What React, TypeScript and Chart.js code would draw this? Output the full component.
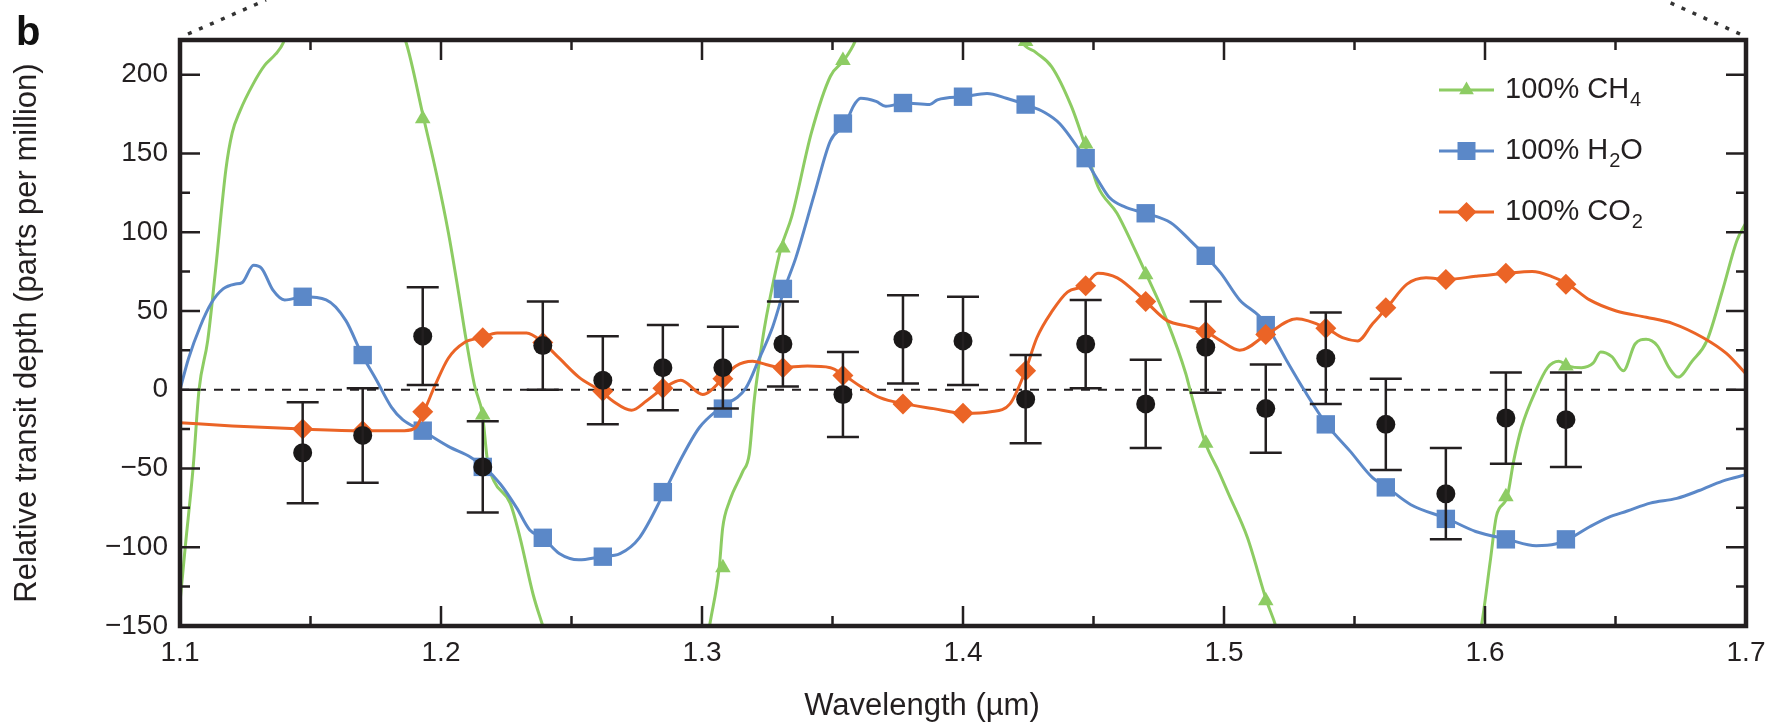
import React, { useEffect, useRef } from "react";
import { Chart, registerables } from "chart.js";

Chart.register(...registerables);

const FONT = '"Liberation Sans", Arial, Helvetica, sans-serif';
const INK = "#231f20";
const GREEN = "#8dcc63";
const BLUE = "#5b88c8";
const ORANGE = "#eb6426";

// Observed data (binned spectrum)
const wavelengths = [1.147, 1.170, 1.193, 1.216, 1.239, 1.262, 1.285, 1.308, 1.331, 1.354, 1.377, 1.400, 1.424, 1.447, 1.470, 1.493, 1.516, 1.539, 1.562, 1.585, 1.608, 1.631];
const depth = [-40, -29, 34, -49, 28, 6, 14, 14, 29, -3, 32, 31, -6, 29, -9, 27, -12, 20, -22, -66, -18, -19];
const depthErr = [32, 30, 31, 29, 28, 28, 27, 26, 27, 27, 28, 28, 28, 28, 28, 29, 28, 29, 29, 29, 29, 30];

// Model markers at the binned wavelengths
const ch4Markers = [null, null, 172, -16, null, null, null, -113, 90, 209, null, null, 221, 156, 73, -34, -134, null, null, null, -68, 15];
const h2oMarkers = [59, 22, -26, -49, -94, -106, -65, -12, 64, 169, 182, 186, 181, 147, 112, 85, 41, -22, -62, -82, -95, -95];
const co2Markers = [-25, -26, -14, 33, 30, -1, 1, 7, 14, 9, -9, -15, 12, 66, 56, 37, 35, 39, 52, 70, 74, 67];

// Model curves (null = curve leaves the plotted range)
const ch4Wl = [
  1.100, 1.102, 1.105, 1.1073, 1.1106, 1.1135, 1.1176, 1.120, 1.123, 1.128, 1.1325, 1.1366, 1.1395, 1.141, 1.160,
  1.183, 1.1865, 1.1934, 1.1984, 1.2028, 1.2065, 1.2096, 1.2128, 1.2159, 1.2178, 1.2203, 1.2265, 1.2303, 1.2353, 1.239, 1.2405, 1.270,
  1.302, 1.3028, 1.3066, 1.3079, 1.3105, 1.3156, 1.3181, 1.320, 1.322, 1.3239, 1.3258, 1.3303, 1.3344, 1.3419, 1.3492, 1.3543, 1.3586, 1.360, 1.390,
  1.421, 1.4225, 1.428, 1.434, 1.4415, 1.4466, 1.4517, 1.459, 1.465, 1.4703, 1.4781, 1.4854, 1.4873, 1.4929, 1.498, 1.5017, 1.509, 1.5163, 1.520, 1.521, 1.560,
  1.597, 1.5985, 1.602, 1.6044, 1.6085, 1.611, 1.614, 1.6196, 1.624, 1.6283, 1.632, 1.637, 1.6415, 1.6443, 1.6486, 1.653, 1.6575, 1.6617, 1.666, 1.6705, 1.674, 1.6793, 1.685, 1.691, 1.6966, 1.700,
];
const ch4Val = [
  -135, -100, -50, 0, 31, 74, 140, 163, 177, 194, 206, 213, 220, 228, null,
  232, 221, 172, 136, 100, 64, 32, 3, -16, -45, -58, -72, -94, -130, -150, -158, null,
  -160, -151, -113, -88, -71, -52, -41, -7, 18, 39, 56, 90, 110, 163, 199, 209, 221, 228, null,
  228, 221, 214, 205, 180, 156, 129, 112, 92, 73, 44, 10, -2, -34, -52, -66, -94, -134, -151, -158, null,
  -160, -151, -109, -80, -68, -45, -24, 0, 14, 18, 15, 14, 17, 24, 21, 12, 29, 32, 28, 14, 8, 18, 31, 63, 95, 106,
];

const h2oWl = [
  1.100, 1.1033, 1.1077, 1.112, 1.1165, 1.1209, 1.1238, 1.1282, 1.1313, 1.1357, 1.1401, 1.1474, 1.156, 1.1635, 1.1698,
  1.1753, 1.181, 1.1853, 1.1928, 1.2028, 1.2115, 1.2165, 1.2228, 1.229, 1.234, 1.239, 1.2453, 1.2528, 1.2613, 1.2686,
  1.276, 1.2853, 1.2913, 1.299, 1.3066, 1.3168, 1.322, 1.3271, 1.3316, 1.336, 1.3432, 1.3492, 1.355, 1.358, 1.3608,
  1.3667, 1.3704, 1.3777, 1.3872, 1.3902, 1.4005, 1.4092, 1.4166, 1.4239, 1.4313, 1.437, 1.4466, 1.4517, 1.4561, 1.462,
  1.470, 1.4796, 1.4869, 1.4929, 1.4988, 1.506, 1.5133, 1.5163, 1.5235, 1.531, 1.5393, 1.5483, 1.557, 1.5624, 1.5716,
  1.5857, 1.5964, 1.6087, 1.6196, 1.627, 1.6318, 1.6401, 1.6473, 1.6545, 1.6633, 1.6735, 1.6821, 1.691, 1.700,
];
const h2oVal = [
  0, 20, 40, 55, 64, 67, 68, 79, 77, 63, 57, 59, 57, 44, 22,
  6, -11, -19, -26, -36, -43, -49, -60, -75, -89, -94, -104, -108, -106, -104,
  -94, -66, -46, -24, -12, 1, 20, 40, 64, 84, 125, 158, 169, 180, 185,
  183, 180, 182, 181, 184, 186, 188, 185, 181, 176, 169, 147, 133, 122, 116,
  112, 106, 95, 85, 74, 57, 47, 41, 20, -1, -22, -39, -56, -62, -73,
  -82, -90, -95, -99, -98, -95, -87, -81, -77, -72, -69, -64, -58, -54,
];

const co2Wl = [
  1.100, 1.120, 1.147, 1.170, 1.1778, 1.186, 1.1903, 1.1934, 1.1978, 1.2028, 1.209, 1.2153, 1.2215, 1.2328, 1.239,
  1.2453, 1.2528, 1.2613, 1.2657, 1.273, 1.2788, 1.2853, 1.2919, 1.3003, 1.308, 1.313, 1.3194, 1.3245, 1.3302, 1.3404,
  1.3492, 1.3546, 1.3608, 1.3682, 1.3777, 1.3887, 1.4007, 1.4106, 1.418, 1.4239, 1.4283, 1.4342, 1.440, 1.4466, 1.4517,
  1.4591, 1.470, 1.4781, 1.4869, 1.4929, 1.4988, 1.506, 1.5163, 1.5279, 1.5393, 1.5454, 1.5512, 1.557, 1.5624, 1.5701,
  1.5774, 1.5857, 1.5964, 1.6087, 1.6181, 1.6254, 1.6318, 1.6401, 1.6503, 1.6618, 1.672, 1.6836, 1.6925, 1.700,
];
const co2Val = [
  -21, -23, -25, -26, -26, -26, -24, -14, 3, 20, 30, 33, 36, 36, 30,
  20, 8, -1, -7, -13, -7, 1, 6, -3, 7, 15, 18, 16, 14, 15,
  14, 9, 2, -5, -9, -12, -15, -14, -9, 12, 33, 50, 62, 66, 74,
  71, 56, 44, 40, 37, 31, 25, 35, 45, 39, 33, 31, 42, 52, 67,
  71, 70, 72, 74, 75, 72, 67, 57, 50, 46, 42, 33, 23, 10,
];

// Axes
const X_MIN = 1.1;
const X_MAX = 1.7;
const Y_MIN = -150;
const Y_MAX = 222;
const xMajorTicks = [1.1, 1.2, 1.3, 1.4, 1.5, 1.6, 1.7];
const xMinorTicks = [1.15, 1.25, 1.35, 1.45, 1.55, 1.65];
const yMajorTicks = [-150, -100, -50, 0, 50, 100, 150, 200];
const yMinorTicks = [-125, -75, -25, 25, 75, 125];

const legendItems = [
  { text: "100% CH", sub: "4", tail: "", color: GREEN, shape: "triangle", r: 8.5 },
  { text: "100% H", sub: "2", tail: "O", color: BLUE, shape: "rect", r: 9 },
  { text: "100% CO", sub: "2", tail: "", color: ORANGE, shape: "rectRot", r: 10 },
];

const toXY = (xs: number[], ys: (number | null)[]) => xs.map((x, i) => ({ x, y: ys[i] }));

function drawShape(ctx: CanvasRenderingContext2D, shape: string, x: number, y: number, r: number, color: string) {
  ctx.fillStyle = color;
  ctx.beginPath();
  if (shape === "rect") {
    ctx.rect(x - r, y - r, 2 * r, 2 * r);
  } else if (shape === "triangle") {
    ctx.moveTo(x, y - r);
    ctx.lineTo(x + r * 0.866, y + r * 0.5);
    ctx.lineTo(x - r * 0.866, y + r * 0.5);
    ctx.closePath();
  } else {
    ctx.moveTo(x, y - r);
    ctx.lineTo(x + r, y);
    ctx.lineTo(x, y + r);
    ctx.lineTo(x - r, y);
    ctx.closePath();
  }
  ctx.fill();
}

const decorPlugin = {
  id: "decor",
  beforeDatasetsDraw(chart: any) {
    const { ctx, chartArea: a, scales } = chart;
    const y0 = scales.y.getPixelForValue(0);
    ctx.save();
    ctx.strokeStyle = INK;
    ctx.lineWidth = 2;
    ctx.setLineDash([9, 8]);
    ctx.beginPath();
    ctx.moveTo(a.left, y0);
    ctx.lineTo(a.right, y0);
    ctx.stroke();
    ctx.restore();
  },
  afterDatasetsDraw(chart: any) {
    const { ctx, chartArea: a, scales } = chart;
    const xs = scales.x;
    const ys = scales.y;
    ctx.save();
    // error bars
    ctx.strokeStyle = INK;
    ctx.lineWidth = 2.5;
    wavelengths.forEach((w, i) => {
      const px = xs.getPixelForValue(w);
      const top = ys.getPixelForValue(depth[i] + depthErr[i]);
      const bot = ys.getPixelForValue(depth[i] - depthErr[i]);
      ctx.beginPath();
      ctx.moveTo(px, top);
      ctx.lineTo(px, bot);
      ctx.moveTo(px - 16, top);
      ctx.lineTo(px + 16, top);
      ctx.moveTo(px - 16, bot);
      ctx.lineTo(px + 16, bot);
      ctx.stroke();
    });
    // ticks (inward)
    ctx.lineWidth = 2.5;
    ctx.beginPath();
    const xt = (v: number, len: number) => {
      const px = xs.getPixelForValue(v);
      ctx.moveTo(px, a.bottom);
      ctx.lineTo(px, a.bottom - len);
      ctx.moveTo(px, a.top);
      ctx.lineTo(px, a.top + len);
    };
    xMajorTicks.forEach((v) => xt(v, 20));
    xMinorTicks.forEach((v) => xt(v, 10));
    const yt = (v: number, len: number) => {
      const py = ys.getPixelForValue(v);
      ctx.moveTo(a.left, py);
      ctx.lineTo(a.left + len, py);
      ctx.moveTo(a.right, py);
      ctx.lineTo(a.right - len, py);
    };
    yMajorTicks.forEach((v) => yt(v, 20));
    yMinorTicks.forEach((v) => yt(v, 10));
    ctx.stroke();
    // frame
    ctx.lineWidth = 4.5;
    ctx.strokeRect(a.left, a.top, a.right - a.left, a.bottom - a.top);
    ctx.restore();
  },
  afterDraw(chart: any) {
    const { ctx, chartArea: a } = chart;
    ctx.save();
    // panel letter
    ctx.fillStyle = "#111";
    ctx.font = `bold 40px ${FONT}`;
    ctx.textBaseline = "alphabetic";
    ctx.textAlign = "left";
    ctx.fillText("b", 16, 45);
    // dotted zoom lines
    ctx.strokeStyle = "#333";
    ctx.lineWidth = 3.5;
    ctx.setLineDash([4, 8]);
    ctx.beginPath();
    ctx.moveTo(a.left + 8, a.top - 6);
    ctx.lineTo(a.left + 86, 0);
    ctx.moveTo(a.right - 6, a.top - 6);
    ctx.lineTo(a.right - 82, 0);
    ctx.stroke();
    ctx.setLineDash([]);
    // x title
    ctx.fillStyle = INK;
    ctx.font = `31px ${FONT}`;
    ctx.textAlign = "center";
    ctx.textBaseline = "middle";
    ctx.fillText("Wavelength (\u00b5m)", 922, 706);
    // legend
    const rows = [90, 151, 212];
    legendItems.forEach((it, i) => {
      const y = rows[i];
      ctx.strokeStyle = it.color;
      ctx.lineWidth = 3;
      ctx.beginPath();
      ctx.moveTo(1439, y);
      ctx.lineTo(1494, y);
      ctx.stroke();
      drawShape(ctx, it.shape, 1466.5, y, it.r, it.color);
      ctx.fillStyle = INK;
      ctx.textAlign = "left";
      ctx.textBaseline = "middle";
      ctx.font = `29px ${FONT}`;
      let x = 1505;
      ctx.fillText(it.text, x, y);
      x += ctx.measureText(it.text).width;
      ctx.font = `20px ${FONT}`;
      ctx.fillText(it.sub, x + 1, y + 10);
      x += ctx.measureText(it.sub).width + 1;
      if (it.tail) {
        ctx.font = `29px ${FONT}`;
        ctx.fillText(it.tail, x, y);
      }
    });
    ctx.restore();
  },
};

export default function App() {
  const ref = useRef<HTMLCanvasElement | null>(null);

  useEffect(() => {
    if (!ref.current) return;
    Chart.defaults.font.family = FONT;
    const lineDs = (label: string, xs: number[], ys: (number | null)[], color: string) => ({
      type: "line" as const,
      label,
      data: toXY(xs, ys),
      borderColor: color,
      backgroundColor: color,
      borderWidth: 3,
      pointRadius: 0,
      cubicInterpolationMode: "monotone" as const,
      spanGaps: false,
      fill: false,
    });
    const markerDs = (label: string, ys: (number | null)[], color: string, style: string, r: number) => ({
      type: "line" as const,
      label,
      data: toXY(wavelengths, ys),
      showLine: false,
      borderWidth: 0,
      pointStyle: style,
      pointRadius: r,
      pointBorderWidth: 0,
      pointBackgroundColor: color,
      pointBorderColor: color,
    });
    const chart = new Chart(ref.current, {
      type: "line",
      data: {
        datasets: [
          {
            type: "line",
            label: "Observed",
            data: toXY(wavelengths, depth),
            showLine: false,
            pointStyle: "circle",
            pointRadius: 9.5,
            pointBorderWidth: 0,
            pointBackgroundColor: "#1a1818",
          } as any,
          markerDs("CO2 bins", co2Markers, ORANGE, "rectRot", 10.5),
          lineDs("100% CO2", co2Wl, co2Val, ORANGE),
          markerDs("H2O bins", h2oMarkers, BLUE, "rect", 13),
          lineDs("100% H2O", h2oWl, h2oVal, BLUE),
          markerDs("CH4 bins", ch4Markers, GREEN, "triangle", 9),
          lineDs("100% CH4", ch4Wl, ch4Val, GREEN),
        ],
      },
      options: {
        responsive: false,
        animation: false,
        events: [],
        layout: { padding: { left: 0, right: 40, top: 40, bottom: 0 } },
        plugins: { legend: { display: false }, tooltip: { enabled: false } },
        scales: {
          x: {
            type: "linear",
            min: X_MIN,
            max: X_MAX,
            grid: { display: false, drawTicks: false },
            border: { display: false },
            ticks: {
              stepSize: 0.1,
              includeBounds: false,
              padding: 10,
              color: INK,
              font: { size: 28, family: FONT },
              maxRotation: 0,
              callback: (v: any) => Number(v).toFixed(1),
            },
            afterFit: (s: any) => {
              s.height = 100;
            },
          },
          y: {
            type: "linear",
            min: Y_MIN,
            max: Y_MAX,
            grid: { display: false, drawTicks: false },
            border: { display: false },
            ticks: {
              stepSize: 50,
              includeBounds: false,
              padding: 12,
              color: INK,
              font: { size: 28, family: FONT },
              callback: (v: any) => (Number(v) < 0 ? "\u2212" + Math.abs(Number(v)) : String(v)),
            },
            title: {
              display: true,
              text: "Relative transit depth (parts per million)",
              color: INK,
              font: { size: 31, family: FONT },
              padding: { top: 9, bottom: 0 },
            },
            afterFit: (s: any) => {
              s.width = 180;
            },
          },
        },
      } as any,
      plugins: [decorPlugin],
    });
    return () => chart.destroy();
  }, []);

  return (
    <div style={{ position: "fixed", left: 0, top: 0, width: 1786, height: 726, background: "#fff" }}>
      <canvas ref={ref} width={1786} height={726} style={{ display: "block", width: 1786, height: 726 }} />
    </div>
  );
}
